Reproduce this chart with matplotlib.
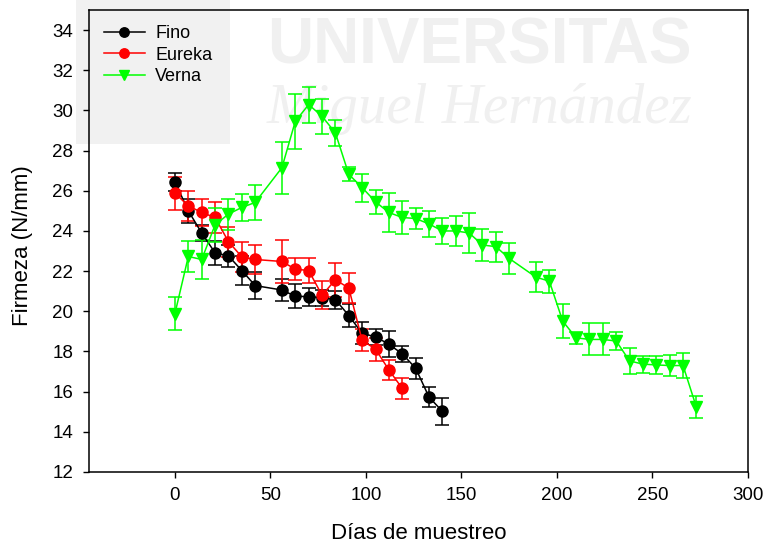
import matplotlib
matplotlib.use("Agg")
import matplotlib.pyplot as plt
from matplotlib.patches import Rectangle

plt.rcParams['font.family'] = ['Liberation Sans', 'DejaVu Sans']

# ---- data ----
fino_days = [0, 7, 14, 21, 28, 35, 42, 56, 63, 70, 77, 84, 91, 98, 105, 112, 119, 126, 133, 140]
fino_vals = [26.44, 25.0, 23.9, 22.91, 22.76, 22.03, 21.28, 21.06, 20.75, 20.73, 20.68, 20.58,
             19.79, 18.9, 18.73, 18.36, 17.88, 17.17, 15.73, 15.02]
fino_err = [0.43, 0.6, 0.4, 0.6, 0.55, 0.72, 0.68, 0.53, 0.6, 0.45, 0.4, 0.45,
            0.55, 0.55, 0.4, 0.65, 0.4, 0.53, 0.48, 0.66]

eureka_days = [0, 7, 14, 21, 28, 35, 42, 56, 63, 70, 77, 84, 91, 98, 105, 112, 119]
eureka_vals = [25.88, 25.25, 24.92, 24.67, 23.47, 22.71, 22.58, 22.48, 22.1, 22.03, 20.8,
               21.57, 21.16, 18.55, 18.12, 17.08, 16.16]
eureka_err = [0.82, 0.75, 0.67, 0.75, 0.75, 0.73, 0.7, 1.08, 0.53, 0.6, 0.7,
              0.85, 0.76, 0.55, 0.57, 0.5, 0.52]

verna_days = [0, 7, 14, 21, 28, 35, 42, 56, 63, 70, 77, 84, 91, 98, 105, 112, 119, 126, 133,
              140, 147, 154, 161, 168, 175, 189, 196, 203, 210, 217, 224, 231, 238, 245, 252,
              259, 266, 273]
verna_vals = [19.89, 22.73, 22.58, 24.3, 24.84, 25.17, 25.42, 27.15, 29.46, 30.29, 29.71, 28.88,
              26.82, 26.16, 25.45, 24.92, 24.67, 24.62, 24.35, 24.0, 24.0, 23.9, 23.3, 23.22,
              22.63, 21.7, 21.5, 19.51, 18.68, 18.6, 18.6, 18.52, 17.53, 17.37, 17.33, 17.3,
              17.3, 15.22]
verna_err = [0.83, 0.75, 0.95, 0.85, 0.77, 0.65, 0.88, 1.3, 1.36, 0.9, 0.87, 0.63,
             0.35, 0.7, 0.6, 0.95, 0.8, 0.5, 0.66, 0.65, 0.75, 1.0, 0.78, 0.75,
             0.76, 0.73, 0.58, 0.85, 0.3, 0.8, 0.8, 0.45, 0.63, 0.42, 0.43, 0.54,
             0.6, 0.55]

series = [
    ("Fino", fino_days, fino_vals, fino_err, "#000000", "o"),
    ("Eureka", eureka_days, eureka_vals, eureka_err, "#ff0000", "o"),
    ("Verna", verna_days, verna_vals, verna_err, "#00ff00", "v"),
]

xticks = [0, 50, 100, 150, 200, 250, 300]
yticks = list(range(12, 36, 2))

W, H = 766, 547
fig = plt.figure(figsize=(W / 100, H / 100), dpi=100)

# faint watermark behind the plot
fig.patches.append(Rectangle((76 / W, 1 - 144 / H), (230 - 76) / W, 144 / H,
                             transform=fig.transFigure, facecolor="#f1f1f1",
                             edgecolor="none", zorder=-3))
fig.text(479.5 / W, 1 - 63 / H, "UNIVERSITAS", fontsize=46, fontweight="bold",
         color="#f0f0f0", ha="center", va="baseline", zorder=-2)
fig.text(479.5 / W, 1 - 123 / H, "Miguel Hernández", fontsize=41, style="italic",
         family=["Liberation Serif", "DejaVu Serif"],
         color="#f0f0f0", ha="center", va="baseline", zorder=-2)

ax = fig.add_axes([89 / W, 1 - 472 / H, (748 - 89) / W, (472 - 10) / H])
ax.set_facecolor("none")

handles = []
for name, d, v, e, c, m in series:
    cont = ax.errorbar(d, v, yerr=e, color=c, ecolor=c, marker=m, markersize=8,
                       linewidth=1.1, elinewidth=1.1, capsize=4.7, capthick=1.1,
                       label=name)
    handles.append(cont.lines[0])

ax.set_xlim(-45, 300)
ax.set_ylim(12, 35)
ax.set_xticks(xticks)
ax.set_yticks(yticks)
ax.tick_params(axis="x", direction="out", length=4.5, width=1, pad=6, labelsize=13.5)
ax.tick_params(axis="y", direction="out", length=4.5, width=1, pad=7, labelsize=13.5)
for s in ax.spines.values():
    s.set_linewidth(1.1)

ax.set_xlabel("Días de muestreo", fontsize=16)
ax.set_ylabel("Firmeza (N/mm)", fontsize=16)
ax.xaxis.set_label_coords(0.5, (472 - 523) / 462)
ax.yaxis.set_label_coords((33 - 89) / 659, 0.49)

ax.legend(handles=handles, labels=[s[0] for s in series], loc="upper left",
          frameon=False, fontsize=13, handlelength=2.3, labelspacing=0.26,
          handletextpad=0.55, borderaxespad=0.3, markerscale=0.85,
          bbox_to_anchor=(0.003, 0.995))

fig.savefig("out.png", dpi=100)
